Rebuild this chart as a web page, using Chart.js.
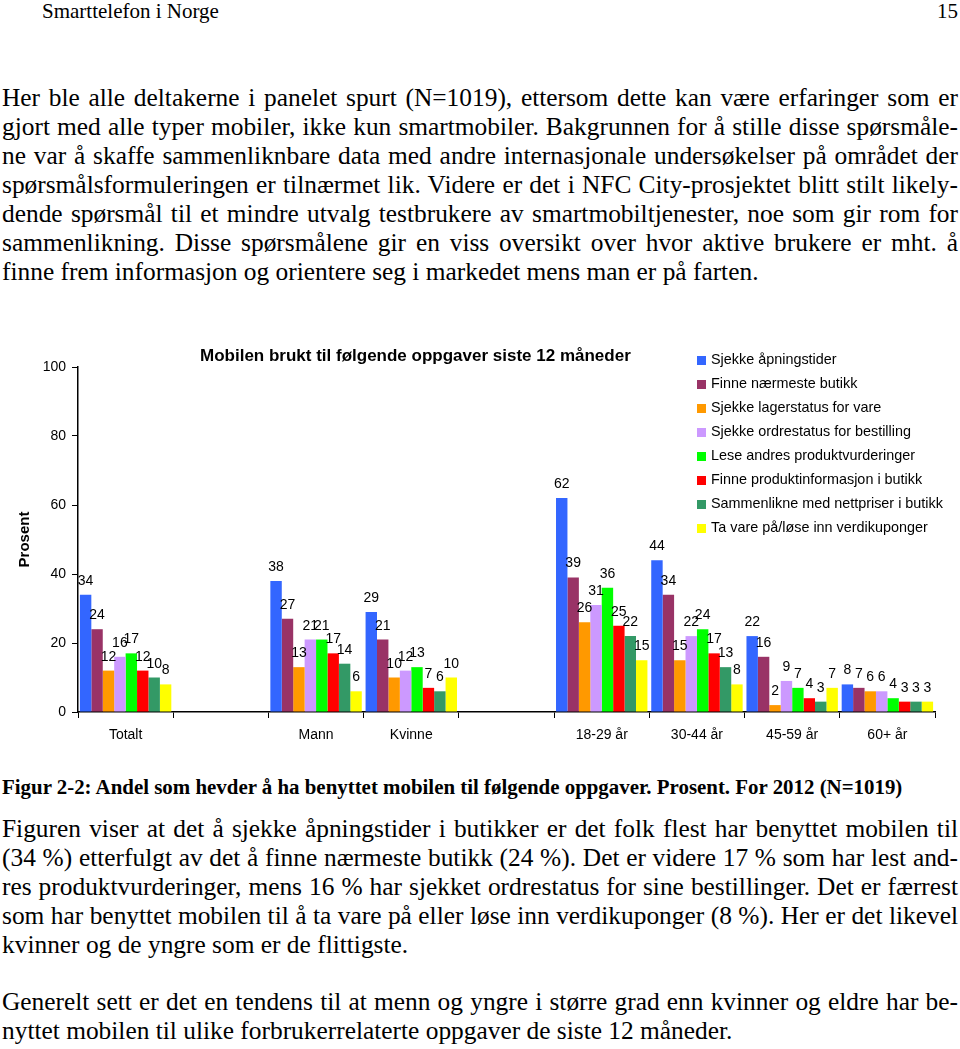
<!DOCTYPE html>
<html>
<head>
<meta charset="utf-8">
<script src="https://cdn.jsdelivr.net/npm/chart.js@4/dist/chart.umd.min.js"></script>
<style>
  body { margin: 0; background: #fff; width: 960px; height: 1049px; position: relative; overflow: hidden; }
  .serif { font-family: "Liberation Serif", "Times New Roman", serif; color: #000; }
  .blk { position: absolute; left: 2px; width: 956px; font-size: 25.4px; line-height: 29px; }
  .blk div { text-align: justify; text-align-last: justify; white-space: nowrap; }
  .blk div.last { text-align-last: left; }
  #hdr { position: absolute; top: 0; left: 42px; font-size: 21px; line-height: 22px; }
  #pg { position: absolute; top: 0; right: 2px; font-size: 21px; line-height: 22px; }
  #cap { position: absolute; top: 775px; left: 2px; font-size: 20.9px; font-weight: bold; line-height: 24px; white-space: nowrap; }
  #chartBox { position: absolute; left: 0; top: 340px; width: 960px; height: 420px; }
  #ttl { position: absolute; left: 200px; top: 346px; font: bold 17px "Liberation Sans", Arial, sans-serif; white-space: nowrap; }
  #legend { position: absolute; left: 697px; top: 350px; font: 14.4px "Liberation Sans", Arial, sans-serif; }
  #legend .it { height: 24px; line-height: 19px; white-space: nowrap; }
  #legend .sw { display: inline-block; width: 9px; height: 9px; margin-right: 5px; vertical-align: -1px; }
</style>
</head>
<body>
<div id="hdr" class="serif">Smarttelefon i Norge</div>
<div id="pg" class="serif">15</div>

<div class="blk serif" style="top:83px">
  <div>Her ble alle deltakerne i panelet spurt (N=1019), ettersom dette kan være erfaringer som er</div>
  <div>gjort med alle typer mobiler, ikke kun smartmobiler. Bakgrunnen for å stille disse spørsmåle-</div>
  <div>ne var å skaffe sammenliknbare data med andre internasjonale undersøkelser på området der</div>
  <div>spørsmålsformuleringen er tilnærmet lik. Videre er det i NFC City-prosjektet blitt stilt likely-</div>
  <div>dende spørsmål til et mindre utvalg testbrukere av smartmobiltjenester, noe som gir rom for</div>
  <div>sammenlikning. Disse spørsmålene gir en viss oversikt over hvor aktive brukere er mht. å</div>
  <div class="last">finne frem informasjon og orientere seg i markedet mens man er på farten.</div>
</div>

<div id="chartBox"><canvas id="chart"></canvas></div>
<div id="ttl">Mobilen brukt til følgende oppgaver siste 12 måneder</div>
<div id="legend"></div>

<div id="cap" class="serif">Figur 2-2: Andel som hevder å ha benyttet mobilen til følgende oppgaver. Prosent. For 2012 (N=1019)</div>

<div class="blk serif" style="top:814px">
  <div>Figuren viser at det å sjekke åpningstider i butikker er det folk flest har benyttet mobilen til</div>
  <div>(34 %) etterfulgt av det å finne nærmeste butikk (24 %). Det er videre 17 % som har lest and-</div>
  <div>res produktvurderinger, mens 16 % har sjekket ordrestatus for sine bestillinger. Det er færrest</div>
  <div>som har benyttet mobilen til å ta vare på eller løse inn verdikuponger (8 %). Her er det likevel</div>
  <div class="last">kvinner og de yngre som er de flittigste.</div>
</div>

<div class="blk serif" style="top:987px">
  <div>Generelt sett er det en tendens til at menn og yngre i større grad enn kvinner og eldre har be-</div>
  <div class="last">nyttet mobilen til ulike forbrukerrelaterte oppgaver de siste 12 måneder.</div>
</div>

<script>
// groups on the x axis (empty slots are the gaps in the original chart)
const groups = ['Totalt', '', 'Mann', 'Kvinne', '', '18-29 år', '30-44 år', '45-59 år', '60+ år'];

const seriesNames = [
    'Sjekke åpningstider',
    'Finne nærmeste butikk',
    'Sjekke lagerstatus for vare',
    'Sjekke ordrestatus for bestilling',
    'Lese andres produktvurderinger',
    'Finne produktinformasjon i butikk',
    'Sammenlikne med nettpriser i butikk',
    'Ta vare på/løse inn verdikuponger'
];
const seriesColors = ['#3366FF', '#993366', '#FF9900', '#CC99FF', '#00FF00', '#FF0000', '#339966', '#FFFF00'];

// values per group, same order as groups
const apningstider    = [34, null, 38, 29, null, 62, 44, 22, 8];
const naermesteButikk = [24, null, 27, 21, null, 39, 34, 16, 7];
const lagerstatus     = [12, null, 13, 10, null, 26, 15, 2, 6];
const ordrestatus     = [16, null, 21, 12, null, 31, 22, 9, 6];
const produktvurd     = [17, null, 21, 13, null, 36, 24, 7, 4];
const produktinfo     = [12, null, 17, 7, null, 25, 17, 4, 3];
const nettpriser      = [10, null, 14, 6, null, 22, 13, 3, 3];
const verdikuponger   = [8, null, 6, 10, null, 15, 8, 7, 3];

const allSeries = [apningstider, naermesteButikk, lagerstatus, ordrestatus, produktvurd, produktinfo, nettpriser, verdikuponger];

const yTicks = [0, 20, 40, 60, 80, 100];

const FONT = '"Liberation Sans", Arial, sans-serif';

// legend
const legend = document.getElementById('legend');
seriesNames.forEach((name, i) => {
    const row = document.createElement('div');
    row.className = 'it';
    row.innerHTML = '<span class="sw" style="background:' + seriesColors[i] + '"></span>' + name;
    legend.appendChild(row);
});

// value labels over each bar
const barLabels = {
    id: 'barLabels',
    afterDatasetsDraw(chart) {
        const ctx = chart.ctx;
        ctx.save();
        ctx.font = '14px ' + FONT;
        ctx.fillStyle = '#000';
        ctx.textAlign = 'center';
        ctx.textBaseline = 'alphabetic';
        chart.data.datasets.forEach((ds, i) => {
            const meta = chart.getDatasetMeta(i);
            meta.data.forEach((bar, j) => {
                const v = ds.data[j];
                if (v === null) return;
                ctx.fillText(v, bar.x, bar.y - 10);
            });
        });
        ctx.restore();
    }
};

const ctx = document.getElementById('chart');
new Chart(ctx, {
    type: 'bar',
    data: {
        labels: groups,
        datasets: allSeries.map((data, i) => ({
            label: seriesNames[i],
            data: data,
            backgroundColor: seriesColors[i],
            borderWidth: 0
        }))
    },
    options: {
        responsive: true,
        maintainAspectRatio: false,
        animation: false,
        datasets: { bar: { categoryPercentage: 0.96, barPercentage: 1 } },
        layout: { padding: { top: 27, right: 25, left: 0, bottom: 0 } },
        plugins: {
            legend: { display: false },
            tooltip: { enabled: false }
        },
        scales: {
            x: {
                grid: { offset: true, drawOnChartArea: false, tickLength: 6, color: '#000', lineWidth: 1 },
                border: { color: '#000', width: 1.5 },
                ticks: { color: '#000', font: { family: FONT, size: 14 }, padding: 9, maxRotation: 0, autoSkip: false },
                afterFit(scale) { scale.height = 48; }
            },
            y: {
                min: 0,
                max: 100,
                afterBuildTicks(scale) { scale.ticks = yTicks.map(v => ({ value: v })); },
                grid: { drawOnChartArea: false, tickLength: 6, color: '#000', lineWidth: 1 },
                border: { color: '#000', width: 1.5 },
                ticks: { color: '#000', font: { family: FONT, size: 14 }, padding: 6 },
                title: { display: true, text: 'Prosent', color: '#000', font: { family: FONT, size: 15, weight: 'bold' }, padding: { top: 16, bottom: 0 } },
                afterFit(scale) { scale.width = 78; }
            }
        }
    },
    plugins: [barLabels]
});
</script>
</body>
</html>
